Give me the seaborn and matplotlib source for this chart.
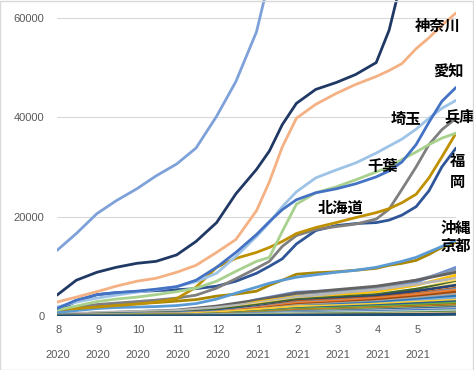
import numpy as np
import pandas as pd
import seaborn as sns
import matplotlib.pyplot as plt
from matplotlib import transforms

# day index from 2020-08-01 (one tick every 31 days)
days = [0, 15, 31, 46, 62, 77, 93, 108, 124, 139, 155, 165, 175, 186,
        201, 217, 232, 248, 258, 268, 279, 289, 299, 310]
days_m = [0, 31, 62, 93, 124, 155, 186, 217, 248, 279, 310]
month_labels = ['8', '9', '10', '11', '12', '1', '2', '3', '4', '5']
year_labels = ['2020'] * 5 + ['2021'] * 5

tokyo = [13200, 16600, 20600, 23200, 25600, 28200, 30600, 33800, 40200, 47200, 57200, 68000,
         78000, 95000, 105000, 112000, 117000, 122000, 125000, 128000, 133000, 145000, 155000, 165000]
osaka = [4200, 7200, 8800, 9800, 10600, 11000, 12300, 15000, 18800, 24600, 29500, 33200,
         38500, 42800, 45600, 47000, 48600, 51000, 57500, 68000, 80000, 90000, 97000, 101000]
kanagawa = [2800, 3800, 4900, 6000, 7000, 7600, 8800, 10200, 12800, 15400, 21200, 27000,
            34000, 39800, 42600, 44800, 46600, 48200, 49400, 50800, 53800, 56000, 58500, 61000]
aichi = [1500, 3200, 4300, 4700, 5000, 5400, 5900, 7200, 9800, 12800, 16400, 19000,
         21400, 23400, 24800, 25600, 26600, 28000, 29200, 31000, 34500, 39000, 43200, 46000]
saitama = [1800, 2800, 3600, 4200, 4800, 5300, 5900, 6900, 8600, 12000, 16000, 18800,
           22000, 25000, 27800, 29400, 30800, 32800, 34200, 35600, 37600, 39800, 41800, 43400]
hyogo = [1200, 1800, 2300, 2600, 2900, 3200, 3600, 4200, 5600, 7500, 9600, 11000,
         14000, 16200, 17400, 18000, 18500, 19500, 21500, 25500, 30000, 34500, 37500, 39800]
chiba = [1200, 2000, 2900, 3400, 3800, 4300, 4900, 5600, 7000, 9000, 11000, 11800,
         17000, 22500, 24800, 26000, 27400, 29000, 30000, 31500, 33000, 34500, 35800, 36800]
hokkaido = [1300, 1500, 1800, 2100, 2400, 2800, 3500, 5800, 9800, 11600, 12800, 13800,
            15000, 16600, 17800, 18800, 19800, 20800, 21600, 22800, 24500, 27800, 32000, 36800]
fukuoka = [1200, 2900, 4300, 4700, 4900, 5100, 5300, 5500, 6000, 7000, 8600, 10000,
           11500, 14500, 17200, 18200, 18600, 18800, 19300, 20300, 22000, 25200, 30000, 33800]
okinawa = [600, 1500, 2100, 2300, 2500, 2700, 3000, 3300, 4000, 4400, 5000, 6200,
           7200, 8400, 8700, 8900, 9200, 9600, 10200, 10600, 11200, 12400, 13800, 14800]
kyoto = [700, 1100, 1500, 1700, 1800, 1900, 2100, 2500, 3400, 4600, 5800, 6600,
         7200, 7800, 8300, 8800, 9200, 9800, 10400, 11000, 11800, 12900, 14000, 15200]

# remaining prefectures, sampled on days_m
others = [
    [120, 250, 330, 480, 1300, 3300, 4800, 5100, 5400, 6800, 9800],
    [200, 500, 700, 900, 1600, 3000, 4400, 5000, 5800, 7200, 9300],
    [250, 600, 900, 1200, 2000, 3200, 4600, 5300, 6000, 7200, 8800],
    [80, 180, 300, 500, 1200, 2800, 3900, 4300, 4900, 6200, 8200],
    [300, 700, 900, 1100, 1700, 2600, 3800, 4600, 5300, 6400, 7600],
    [60, 150, 260, 400, 1100, 2400, 3400, 3800, 4200, 5400, 7200],
    [150, 400, 550, 700, 1200, 2200, 3300, 3800, 4300, 5400, 6800],
    [40, 100, 180, 300, 800, 1900, 2900, 3300, 3800, 4900, 6600],
    [100, 300, 450, 600, 1000, 1900, 3000, 3500, 4000, 5000, 6200],
    [50, 120, 200, 320, 700, 1700, 2900, 3300, 3700, 4500, 5600],
    [100, 300, 450, 600, 900, 1700, 2700, 3100, 3500, 4300, 5400],
    [100, 250, 350, 450, 800, 1600, 2600, 3000, 3500, 4300, 5200],
    [80, 200, 300, 420, 700, 1400, 2300, 2700, 3200, 3900, 4800],
    [120, 300, 400, 500, 750, 1300, 2100, 2500, 2900, 3600, 4400],
    [60, 150, 230, 300, 550, 1200, 1900, 2300, 2700, 3300, 4000],
    [40, 120, 180, 250, 500, 1000, 1700, 2000, 2400, 3000, 3600],
    [50, 150, 250, 350, 700, 1300, 1900, 2100, 2400, 2800, 3200],
    [30, 100, 160, 220, 420, 900, 1500, 1800, 2100, 2500, 2900],
    [40, 110, 170, 230, 400, 850, 1400, 1600, 1900, 2200, 2600],
    [30, 90, 140, 200, 380, 750, 1200, 1400, 1650, 1950, 2300],
    [20, 70, 110, 160, 330, 650, 1100, 1300, 1500, 1800, 2100],
    [20, 60, 100, 150, 280, 600, 1000, 1200, 1400, 1700, 2000],
    [30, 80, 120, 170, 300, 600, 950, 1150, 1350, 1600, 1900],
    [20, 60, 100, 140, 260, 500, 850, 1000, 1200, 1450, 1700],
    [20, 50, 80, 120, 220, 450, 750, 900, 1050, 1250, 1500],
    [10, 40, 70, 100, 190, 380, 650, 780, 900, 1100, 1300],
    [10, 30, 60, 90, 160, 320, 550, 650, 750, 900, 1100],
    [10, 30, 50, 80, 140, 280, 480, 580, 680, 820, 1000],
    [5, 20, 40, 60, 110, 220, 380, 460, 540, 650, 800],
    [5, 15, 30, 45, 80, 160, 280, 340, 400, 480, 600],
    [3, 10, 20, 30, 55, 110, 190, 230, 270, 330, 420],
    [2, 8, 15, 25, 45, 90, 150, 190, 230, 280, 350],
]
other_colors = ['#6F8FD0', '#8497B0', '#636363', '#FFC000', '#B7B7B7', '#FFD966', '#43682B',
                '#FFE699', '#264478', '#C55A11', '#5B9BD5', '#ED7D31', '#9E480E', '#A5A5A5',
                '#2E75B6', '#7CAFDD', '#FFCD33', '#255E91', '#70AD47', '#997300', '#F1975A',
                '#843C0C', '#8CC168', '#335AA1', '#C9C9C9', '#4472C4', '#A9D18E', '#BDD7EE',
                '#548235', '#F8CBAD', '#385723', '#1F4E79']

major = {'沖縄': okinawa, '京都': kyoto, '福岡': fukuoka, '兵庫': hyogo, '北海道': hokkaido,
         '千葉': chiba, '埼玉': saitama, '愛知': aichi, '神奈川': kanagawa, '大阪': osaka, '東京': tokyo}
major_colors = {'沖縄': '#A98600', '京都': '#5B9BD5', '福岡': '#2F5597', '兵庫': '#7F7F7F',
                '北海道': '#BF9000', '千葉': '#A9D18E', '埼玉': '#9DC3E6', '愛知': '#4472C4',
                '神奈川': '#F4B183', '大阪': '#203864', '東京': '#7EA1DA'}

rows = []
pal = {}
order = []
for i, vals in enumerate(others):
    name = 'p%02d' % i
    order.append(name)
    pal[name] = other_colors[i]
    for d, v in zip(days_m, vals):
        rows.append((name, d, v))
for name, vals in major.items():
    order.append(name)
    pal[name] = major_colors[name]
    for d, v in zip(days, vals):
        rows.append((name, d, v))
df = pd.DataFrame(rows, columns=['pref', 'day', 'cases'])

sns.set_style('white')
plt.rcParams['font.family'] = ['Liberation Sans', 'Noto Sans CJK JP']

fig = plt.figure(figsize=(4.74, 3.70), dpi=100)
ax = fig.add_axes([57 / 474, 54 / 370, (456 - 57) / 474, 316 / 370])
sns.lineplot(data=df, x='day', y='cases', hue='pref', hue_order=order, palette=pal,
             estimator=None, sort=False, legend=False, linewidth=2.0, ax=ax)

ax.set_xlim(0, 310)
ax.set_ylim(0, 63600)
ax.set_yticks([0, 20000, 40000, 60000])
ax.set_yticklabels(['0', '20000', '40000', '60000'])
ax.yaxis.grid(True, color='#D9D9D9', lw=0.8)
ax.set_axisbelow(True)
ax.tick_params(axis='y', length=0, pad=9, labelsize=8, labelcolor='#595959')
ax.set_xticks(days_m)
ax.set_xticklabels([''] * len(days_m))
ax.tick_params(axis='x', length=39, width=0.8, color='#D9D9D9', direction='out')
ax.set_xlabel('')
ax.set_ylabel('')
for s in ax.spines.values():
    s.set_visible(False)

trans = transforms.blended_transform_factory(ax.transData, ax.transAxes)
for d, m, y in zip(days_m, month_labels, year_labels):
    ax.text(d + 1, -0.044, m, transform=trans, ha='center', va='center', fontsize=8, color='#595959')
    ax.text(d + 1, -0.123, y, transform=trans, ha='center', va='center', fontsize=8, color='#595959')

lab = dict(fontsize=11, fontweight='bold', color='black', family=['Noto Sans CJK JP'],
           ha='center', va='center')
ax.text(296, 58400, '神奈川', **lab)
ax.text(304.5, 49100, '愛知', **lab)
ax.text(271, 39700, '埼玉', **lab)
ax.text(313, 40300, '兵庫', **lab)
ax.text(253, 30200, '千葉', **lab)
ax.text(311.5, 31200, '福', **lab)
ax.text(311.5, 27000, '岡', **lab)
ax.text(220, 21700, '北海道', **lab)
ax.text(310, 17700, '沖縄', **lab)
ax.text(310, 14100, '京都', **lab)

fig.add_artist(plt.Rectangle((0.001, 0.001), 0.997, 0.997, transform=fig.transFigure,
                             fill=False, edgecolor='#D9D9D9', lw=1))
fig.savefig('out.png', dpi=100)
